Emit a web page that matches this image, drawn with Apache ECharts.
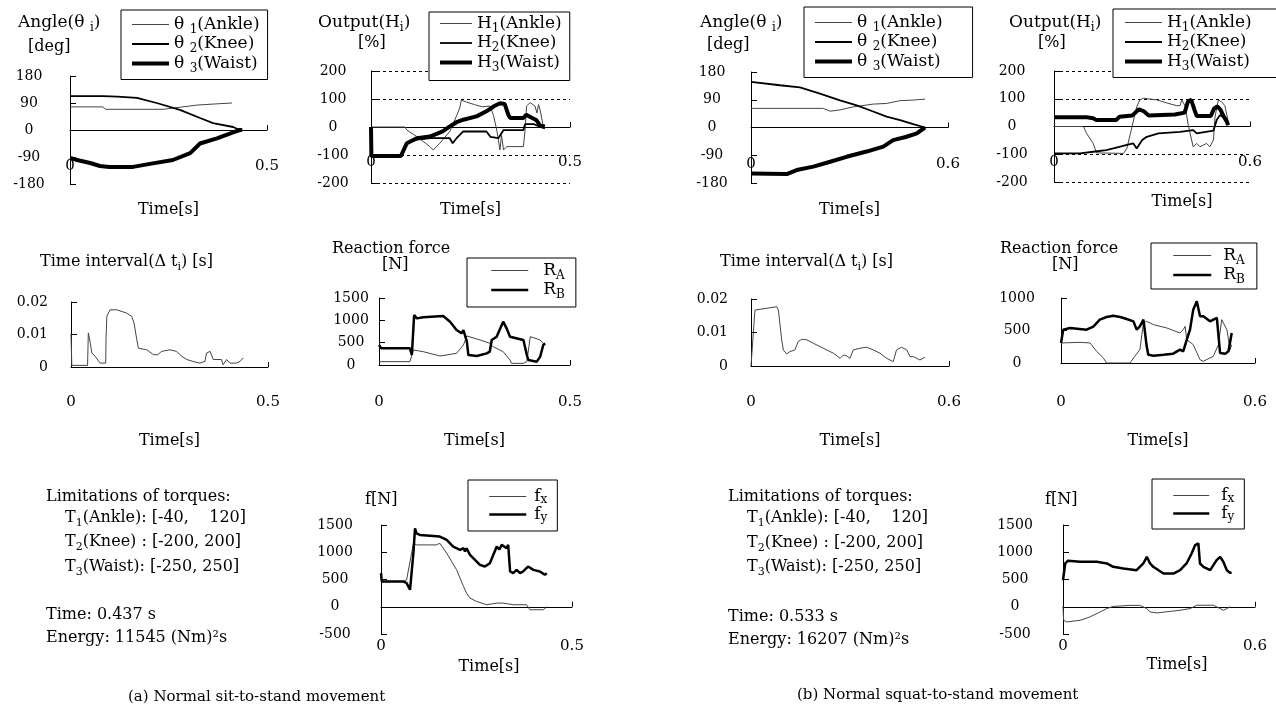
<!DOCTYPE html>
<html>
<head>
<meta charset="utf-8">
<title>Sit-to-stand / squat-to-stand simulation</title>
<script src="https://cdn.jsdelivr.net/npm/echarts@6/dist/echarts.min.js"></script>
<style>
  html, body { margin: 0; padding: 0; background: #fff; }
  #chart { width: 1276px; height: 712px; }
</style>
</head>
<body>
<div id="chart"></div>
<script>
// tick labels
const timeTicksA = [0, 0.5];
const timeTicksB = [0, 0.6];
const angleTicks = [-180, -90, 0, 90, 180];
const outputTicks = [-200, -100, 0, 100, 200];
const dtTicks = [0, 0.01, 0.02];
const reactTicksA = [0, 500, 1000, 1500];
const reactTicksB = [0, 500, 1000];
const forceTicks = [-500, 0, 500, 1000, 1500];

// legend names
const angleNames = ['θ1(Ankle)', 'θ2(Knee)', 'θ3(Waist)'];
const outputNames = ['H1(Ankle)', 'H2(Knee)', 'H3(Waist)'];
const reactNames = ['RA', 'RB'];
const forceNames = ['fx', 'fy'];

// (a) sit-to-stand, [time s, value]
const angleA_ankle = [[0,77],[0.084,77],[0.09,69],[0.236,69],[0.28,76],[0.322,83],[0.37,87],[0.411,90]];
const angleA_knee = [[0,113],[0.084,113],[0.12,111],[0.17,107],[0.22,90],[0.279,67],[0.33,40],[0.363,23],[0.414,10],[0.431,0],[0.437,0]];
const angleA_waist = [[0,-93],[0.018,-100],[0.051,-110],[0.076,-120],[0.1,-123],[0.16,-123],[0.203,-113],[0.261,-100],[0.305,-77],[0.33,-45],[0.373,-28],[0.414,-8],[0.431,0],[0.437,0]];

const outA_ankle = [[0,0],[0.085,0],[0.09,-11],[0.115,-34],[0.148,-70],[0.156,-82],[0.173,-58],[0.198,-16],[0.215,40],[0.223,68],[0.227,96],[0.24,89],[0.26,80],[0.28,72],[0.299,75],[0.308,40],[0.316,-11],[0.324,-82],[0.328,-30],[0.333,-82],[0.341,-70],[0.383,-70],[0.387,-11],[0.391,75],[0.4,87],[0.412,75],[0.417,50],[0.421,80],[0.425,60],[0.433,2],[0.437,0]];
const outA_knee = [[0,-104],[0.075,-104],[0.09,-58],[0.115,-45],[0.15,-40],[0.198,-40],[0.205,-58],[0.215,-40],[0.232,-16],[0.29,-16],[0.3,-35],[0.32,-40],[0.333,-11],[0.383,-11],[0.387,10],[0.41,10],[0.425,0],[0.437,-5]];
const outA_waist = [[0,0],[0.001,-104],[0.075,-104],[0.08,-110],[0.09,-58],[0.115,-40],[0.148,-34],[0.18,-16],[0.198,2],[0.215,17],[0.232,26],[0.265,38],[0.29,56],[0.31,75],[0.324,85],[0.336,82],[0.345,44],[0.35,32],[0.383,32],[0.39,44],[0.4,36],[0.416,24],[0.425,5],[0.437,2]];

const dtA = [[0,0.0102],[0.002,0.0005],[0.042,0.0005],[0.044,0.0105],[0.048,0.008],[0.053,0.0043],[0.061,0.0033],[0.074,0.0012],[0.088,0.0012],[0.089,0.009],[0.091,0.0156],[0.099,0.0176],[0.116,0.0176],[0.141,0.0166],[0.154,0.0156],[0.16,0.0135],[0.167,0.0084],[0.171,0.0058],[0.192,0.0053],[0.209,0.0038],[0.22,0.0038],[0.23,0.0048],[0.251,0.0053],[0.268,0.0048],[0.281,0.0033],[0.294,0.0023],[0.31,0.0017],[0.327,0.0012],[0.34,0.0017],[0.344,0.0043],[0.353,0.0048],[0.361,0.0023],[0.382,0.0023],[0.386,0.0007],[0.395,0.0023],[0.403,0.0012],[0.42,0.0012],[0.429,0.0017],[0.437,0.0028]];

const reactA_RA = [[0,75],[0.081,75],[0.09,336],[0.116,298],[0.16,201],[0.203,261],[0.221,448],[0.23,649],[0.265,560],[0.29,485],[0.299,410],[0.325,298],[0.343,112],[0.347,37],[0.378,37],[0.387,75],[0.396,634],[0.422,560],[0.43,485],[0.435,448]];
const reactA_RB = [[0,448],[0.006,373],[0.081,373],[0.086,224],[0.092,1119],[0.099,1044],[0.116,1067],[0.168,1097],[0.186,970],[0.203,783],[0.216,709],[0.221,783],[0.23,522],[0.234,224],[0.256,201],[0.282,261],[0.29,298],[0.295,560],[0.308,634],[0.325,970],[0.334,821],[0.343,634],[0.378,560],[0.387,224],[0.391,112],[0.413,75],[0.422,187],[0.43,448],[0.435,485]];

const forceA_fx = [[0,464],[0.058,464],[0.067,494],[0.085,1165],[0.093,1135],[0.145,1135],[0.154,1165],[0.172,982],[0.198,677],[0.216,372],[0.224,250],[0.233,159],[0.25,98],[0.277,37],[0.303,67],[0.32,67],[0.346,37],[0.381,37],[0.39,-55],[0.425,-55],[0.434,0]];
const forceA_fy = [[0,616],[0.002,464],[0.058,464],[0.067,433],[0.076,311],[0.08,293],[0.085,1000],[0.089,1440],[0.093,1348],[0.102,1318],[0.154,1287],[0.172,1226],[0.189,1104],[0.207,1043],[0.216,1074],[0.22,1013],[0.224,1074],[0.233,952],[0.259,769],[0.272,738],[0.285,799],[0.303,1104],[0.31,1050],[0.316,1135],[0.329,1074],[0.333,1135],[0.338,647],[0.346,616],[0.355,677],[0.364,616],[0.372,647],[0.385,738],[0.399,677],[0.416,647],[0.429,586],[0.434,616]];

// (b) squat-to-stand
const angleB_ankle = [[0,62],[0.22,62],[0.241,53],[0.271,57],[0.312,67],[0.373,76],[0.413,78],[0.454,87],[0.494,89],[0.53,92]];
const angleB_knee = [[0,148],[0.088,137],[0.149,130],[0.21,110],[0.271,88],[0.322,72],[0.362,56],[0.413,35],[0.454,24],[0.494,11],[0.53,0]];
const angleB_waist = [[0,-149],[0.109,-151],[0.139,-138],[0.19,-127],[0.241,-111],[0.291,-95],[0.352,-78],[0.403,-62],[0.433,-41],[0.474,-30],[0.505,-19],[0.53,0]];

const outB_ankle = [[0,0],[0.09,0],[0.1,-25],[0.12,-61],[0.13,-95],[0.213,-97],[0.223,-79],[0.233,-30],[0.243,20],[0.253,70],[0.263,96],[0.274,102],[0.314,96],[0.345,85],[0.376,75],[0.386,75],[0.391,96],[0.401,75],[0.411,5],[0.426,-73],[0.437,-61],[0.447,-73],[0.467,-61],[0.477,-73],[0.488,-49],[0.493,35],[0.503,96],[0.513,89],[0.523,75],[0.533,20]];
const outB_knee = [[0,-97],[0.08,-97],[0.12,-91],[0.16,-85],[0.2,-73],[0.22,-67],[0.243,-61],[0.253,-79],[0.27,-49],[0.284,-37],[0.32,-25],[0.386,-19],[0.426,-13],[0.437,-25],[0.488,-15],[0.498,23],[0.508,41],[0.528,29],[0.533,5]];
const outB_waist = [[0,33],[0.1,33],[0.12,30],[0.13,23],[0.19,23],[0.2,35],[0.24,40],[0.26,62],[0.275,55],[0.29,40],[0.37,43],[0.4,50],[0.41,90],[0.42,96],[0.43,60],[0.437,38],[0.48,38],[0.49,65],[0.5,72],[0.51,60],[0.52,35],[0.53,15],[0.533,5]];

const dtB = [[0,0],[0.002,0.0005],[0.012,0.0167],[0.017,0.0172],[0.078,0.0177],[0.083,0.0167],[0.093,0.0078],[0.098,0.0048],[0.108,0.0036],[0.118,0.0043],[0.133,0.0048],[0.143,0.0073],[0.154,0.008],[0.169,0.0078],[0.189,0.0068],[0.219,0.0053],[0.25,0.0038],[0.27,0.0023],[0.28,0.0033],[0.29,0.003],[0.3,0.0023],[0.31,0.0048],[0.33,0.0053],[0.35,0.0056],[0.371,0.0048],[0.391,0.0038],[0.411,0.0023],[0.431,0.0013],[0.441,0.0048],[0.456,0.0056],[0.472,0.0048],[0.482,0.0028],[0.492,0.0028],[0.512,0.0018],[0.527,0.0026]];

const reactB_RA = [[0,308],[0.059,318],[0.09,308],[0.11,180],[0.131,77],[0.141,0],[0.214,0],[0.224,77],[0.244,205],[0.255,615],[0.265,641],[0.286,590],[0.327,539],[0.368,462],[0.378,513],[0.384,564],[0.389,359],[0.409,282],[0.43,51],[0.44,26],[0.471,103],[0.487,282],[0.497,667],[0.513,513],[0.523,205],[0.528,282]];
const reactB_RB = [[0,308],[0.007,513],[0.028,539],[0.079,513],[0.1,560],[0.12,667],[0.141,708],[0.162,728],[0.183,708],[0.203,677],[0.224,641],[0.234,513],[0.244,564],[0.255,667],[0.265,256],[0.27,128],[0.286,113],[0.317,128],[0.347,144],[0.368,205],[0.378,180],[0.389,359],[0.399,513],[0.409,821],[0.42,949],[0.43,718],[0.44,718],[0.461,641],[0.482,693],[0.492,154],[0.508,144],[0.518,180],[0.528,462]];

const forceB_fx = [[0,0],[0.002,-248],[0.012,-279],[0.054,-248],[0.084,-187],[0.116,-95],[0.137,-34],[0.157,6],[0.209,25],[0.24,25],[0.262,-34],[0.272,-95],[0.293,-113],[0.366,-64],[0.397,-34],[0.418,28],[0.47,28],[0.491,-34],[0.501,-64],[0.512,-34],[0.522,0]];
const forceB_fy = [[0,487],[0.007,794],[0.015,843],[0.054,825],[0.106,825],[0.11,855],[0.137,794],[0.157,733],[0.189,702],[0.23,671],[0.251,794],[0.262,916],[0.272,794],[0.282,733],[0.314,610],[0.345,610],[0.366,671],[0.386,794],[0.402,978],[0.413,1131],[0.423,1162],[0.428,794],[0.439,733],[0.46,671],[0.48,855],[0.491,916],[0.501,825],[0.512,671],[0.522,622],[0.527,622]];

const FONT = '"DejaVu Serif", serif';
const THIN = { width: 1, color: '#444' };
const MED = { width: 1.8, color: '#000' };
const THICK = { width: 4, color: '#000' };
const BOLD = { width: 2.5, color: '#000' };

const grids = [], xAxes = [], yAxes = [], series = [], legends = [], graphics = [];

function richStyles(size, lh, pad) {
  const m = { fontFamily: FONT, fontSize: size, lineHeight: lh, color: '#000' };
  return {
    m: m,
    p: Object.assign({}, m, { padding: [0, 0, 0, pad || 0] }),
    s: { fontFamily: FONT, fontSize: Math.round(size * 0.68), lineHeight: 10, verticalAlign: 'bottom', color: '#000' }
  };
}

// x labels and axis name are placed from the grid bottom, even when the line sits on zero
function panel(p) {
  const i = grids.length;
  const xt = p.x, yt = p.y;
  grids.push({ left: p.box[0], top: p.box[1], width: p.box[2], height: p.box[3] });
  xAxes.push({
    gridIndex: i, type: 'value',
    min: xt[0], max: xt[xt.length - 1], interval: xt[1] - xt[0],
    axisLine: { onZero: true, lineStyle: { color: '#000', width: 1 } },
    axisTick: { show: true, inside: true, length: 5, lineStyle: { color: '#000' } },
    axisLabel: { margin: p.xMargin, fontFamily: FONT, fontSize: 15, color: '#000', showMinLabel: true, showMaxLabel: true, formatter: v => String(v) },
    splitLine: { show: false },
    name: 'Time[s]', nameLocation: 'middle', nameGap: p.nameGap, nameMoveOverlap: false,
    nameTextStyle: { fontFamily: FONT, fontSize: 16, color: '#000', padding: [0, 0, 0, p.namePad || 0] }
  });
  yAxes.push({
    gridIndex: i, type: 'value',
    min: yt[0], max: yt[yt.length - 1], interval: yt[1] - yt[0],
    axisLine: { show: true, onZero: false, lineStyle: { color: '#000', width: 1 } },
    axisTick: { show: true, inside: true, length: 6, lineStyle: { color: '#000' } },
    axisLabel: { margin: p.yMargin, align: p.yAlign || 'center', fontFamily: FONT, fontSize: 14, color: '#000', padding: [0, 0, 10, 0], formatter: v => String(v) },
    splitLine: { show: !!p.dashed, lineStyle: { color: '#000', width: 1, type: [3, 3] } }
  });
  p.lines.forEach(l => series.push({
    type: 'line', name: l[0], data: l[1], xAxisIndex: i, yAxisIndex: i,
    symbol: 'none', silent: true, lineStyle: l[2], itemStyle: { color: l[2].color }
  }));
}

function richName(name, pad) {
  const head = name[0] === 'θ' ? 'θ ' : name[0];
  let s = '{' + (pad ? 'p' : 'm') + '|' + head + '}{s|' + name[1] + '}';
  if (name.length > 2) s += '{m|' + name.slice(2) + '}';
  return s;
}

function legendBox(names, o) {
  legends.push({
    data: names, orient: 'vertical', left: o.left, top: o.top, padding: o.pad,
    itemWidth: o.iw, itemHeight: 12, itemGap: 0,
    borderColor: '#000', borderWidth: 1, borderRadius: 0, backgroundColor: '#fff',
    selectedMode: false, itemStyle: { opacity: 0 }, lineStyle: { width: 'inherit' },
    formatter: n => richName(n, o.gap),
    textStyle: { color: '#000', rich: richStyles(o.size || 17, o.lh || 22, o.gap) }
  });
}

function text(x, y, parts, size) {
  const str = parts.map((t, k) => t === '' ? '' : '{' + (k % 2 ? 's' : 'm') + '|' + t + '}').join('');
  graphics.push({ type: 'text', x: x, y: y, silent: true,
    style: { text: str, rich: richStyles(size || 16, 22), verticalAlign: 'middle', align: 'left' } });
}

// ---- (a) ----
panel({ box: [70, 76, 197, 108], x: timeTicksA, y: angleTicks, yMargin: 41, xMargin: -25, nameGap: 18,
  lines: [[angleNames[0], angleA_ankle, THIN], [angleNames[1], angleA_knee, MED], [angleNames[2], angleA_waist, THICK]] });
panel({ box: [371, 71, 199, 112], x: timeTicksA, y: outputTicks, yMargin: 38, xMargin: -28, nameGap: 19, dashed: true,
  lines: [[outputNames[0], outA_ankle, THIN], [outputNames[1], outA_knee, MED], [outputNames[2], outA_waist, THICK]] });
panel({ box: [71, 302, 197, 65], x: timeTicksA, y: dtTicks, yMargin: 23, yAlign: 'right', xMargin: 28, nameGap: 66,
  lines: [['dtA', dtA, THIN]] });
panel({ box: [379, 298, 191, 67], x: timeTicksA, y: reactTicksA, yMargin: 28, xMargin: 30, nameGap: 68,
  lines: [[reactNames[0], reactA_RA, THIN], [reactNames[1], reactA_RB, BOLD]] });
panel({ box: [381, 525, 191, 109], x: timeTicksA, y: forceTicks, yMargin: 46, xMargin: 5, nameGap: 25, namePad: 25,
  lines: [[forceNames[0], forceA_fx, THIN], [forceNames[1], forceA_fy, BOLD]] });

// ---- (b) ----
panel({ box: [751, 72, 197, 111], x: timeTicksB, y: angleTicks, yMargin: 39, xMargin: -26, nameGap: 19,
  lines: [[angleNames[0], angleB_ankle, THIN], [angleNames[1], angleB_knee, MED], [angleNames[2], angleB_waist, THICK]] });
panel({ box: [1054, 71, 196, 111], x: timeTicksB, y: outputTicks, yMargin: 42, xMargin: -27, nameGap: 12, namePad: 60, dashed: true,
  lines: [[outputNames[0], outB_ankle, THIN], [outputNames[1], outB_knee, MED], [outputNames[2], outB_waist, THICK]] });
panel({ box: [751, 299, 198, 67], x: timeTicksB, y: dtTicks, yMargin: 23, yAlign: 'right', xMargin: 29, nameGap: 67,
  lines: [['dtB', dtB, THIN]] });
panel({ box: [1061, 298, 194, 65], x: timeTicksB, y: reactTicksB, yMargin: 44, xMargin: 32, nameGap: 70,
  lines: [[reactNames[0], reactB_RA, THIN], [reactNames[1], reactB_RB, BOLD]] });
panel({ box: [1063, 525, 192, 109], x: timeTicksB, y: forceTicks, yMargin: 48, xMargin: 5, nameGap: 23, namePad: 36,
  lines: [[forceNames[0], forceB_fx, THIN], [forceNames[1], forceB_fy, BOLD]] });

// legends
legendBox(angleNames, { left: 121, top: 10, pad: [6, 8, 5, 9], iw: 37 });
legendBox(outputNames, { left: 429, top: 12, pad: [3, 8, 7, 9], iw: 32 });
legendBox(reactNames, { left: 467, top: 258, pad: [4, 11, 6, 23], iw: 37, gap: 10 });
legendBox(forceNames, { left: 468, top: 480, pad: [8, 10, 7, 20], iw: 37, lh: 19, gap: 3 });
legendBox(angleNames, { left: 804, top: 7, pad: [7, 30, 5, 9], iw: 37 });
legendBox(outputNames, { left: 1113, top: 9, pad: [5, 30, 5, 10], iw: 37 });
legendBox(reactNames, { left: 1151, top: 243, pad: [4, 12, 3, 21], iw: 38, gap: 7 });
legendBox(forceNames, { left: 1152, top: 479, pad: [8, 10, 6, 20], iw: 36, lh: 19, gap: 7 });

// titles and notes
text(18, 23, ['Angle(θ ', 'i', ')'], 17);
text(28, 47, ['[deg]'], 16);
text(318, 23, ['Output(H', 'i', ')'], 17);
text(358, 43, ['[%]'], 16);
text(40, 262, ['Time interval(Δ t', 'i', ') [s]'], 16);
text(332, 249, ['Reaction force'], 16);
text(382, 265, ['[N]'], 16);
text(365, 500, ['f[N]'], 16);
text(46, 497, ['Limitations of torques:']);
text(65, 518, ['T', '1', '(Ankle): [-40,    120]']);
text(65, 542, ['T', '2', '(Knee) : [-200, 200]']);
text(65, 567, ['T', '3', '(Waist): [-250, 250]']);
text(46, 615, ['Time: 0.437 s']);
text(46, 638, ['Energy: 11545 (Nm)²s']);
text(128, 697, ['(a) Normal sit-to-stand movement'], 15);

text(700, 23, ['Angle(θ ', 'i', ')'], 17);
text(707, 45, ['[deg]'], 16);
text(1009, 23, ['Output(H', 'i', ')'], 17);
text(1038, 43, ['[%]'], 16);
text(720, 262, ['Time interval(Δ t', 'i', ') [s]'], 16);
text(1000, 249, ['Reaction force'], 16);
text(1052, 265, ['[N]'], 16);
text(1045, 500, ['f[N]'], 16);
text(728, 497, ['Limitations of torques:']);
text(747, 518, ['T', '1', '(Ankle): [-40,    120]']);
text(747, 543, ['T', '2', '(Knee) : [-200, 200]']);
text(747, 567, ['T', '3', '(Waist): [-250, 250]']);
text(728, 617, ['Time: 0.533 s']);
text(728, 640, ['Energy: 16207 (Nm)²s']);
text(797, 695, ['(b) Normal squat-to-stand movement'], 15);

const chart = echarts.init(document.getElementById('chart'));
chart.setOption({
  animation: false,
  backgroundColor: '#fff',
  textStyle: { fontFamily: FONT },
  grid: grids,
  xAxis: xAxes,
  yAxis: yAxes,
  legend: legends,
  series: series,
  graphic: { elements: graphics }
});
</script>
</body>
</html>
